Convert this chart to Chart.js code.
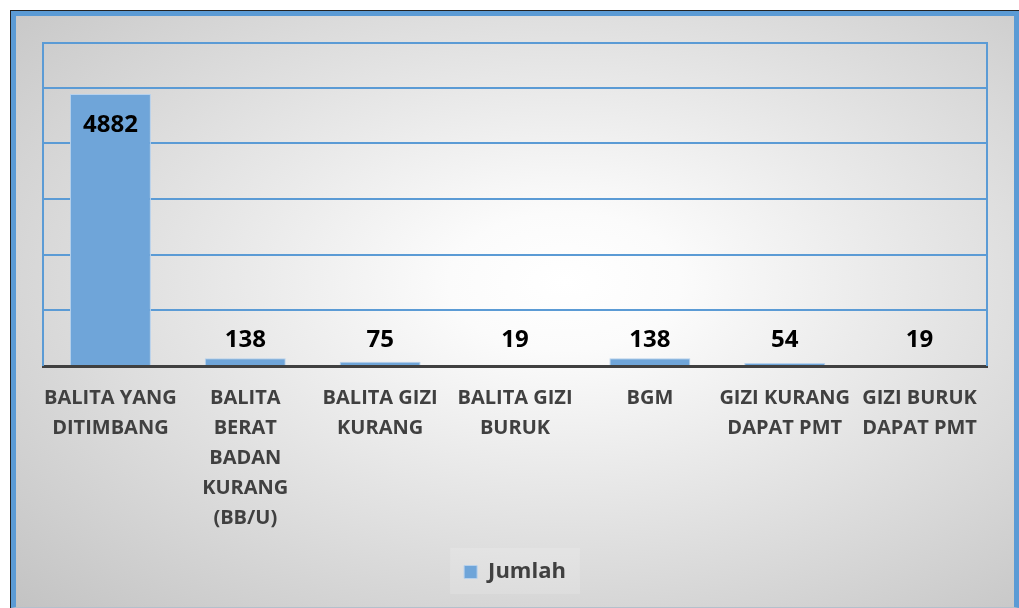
<!DOCTYPE html>
<html>
<head>
<meta charset="utf-8">
<script src="https://cdn.jsdelivr.net/npm/chart.js@4.4.1/dist/chart.umd.min.js"></script>
<style>
  html, body { margin: 0; padding: 0; background: #fff; width: 1019px; height: 608px; overflow: hidden; }
  .frame { position: absolute; left: 10px; top: 10px; width: 1009px; height: 598px;
           border-left: 1px solid #222; border-top: 1px solid #222; box-sizing: border-box; }
  .inner { position: absolute; left: 0; top: 0; right: 0; bottom: 0;
           border: 5px solid #5b9bd5; border-bottom: 1px solid #b4c0cc;
           background: radial-gradient(ellipse farthest-corner at 55% 45%, #ffffff 0%, #fbfbfb 15%, #c3c3c3 100%); }
  canvas { position: absolute; left: 0; top: 0; }
</style>
</head>
<body>
<div class="frame"><div class="inner"><canvas id="c" width="998" height="591"></canvas></div></div>
<script>
// categories and values
const categories = [
    ['BALITA YANG', 'DITIMBANG'],
    ['BALITA', 'BERAT', 'BADAN', 'KURANG', '(BB/U)'],
    ['BALITA GIZI', 'KURANG'],
    ['BALITA GIZI', 'BURUK'],
    ['BGM'],
    ['GIZI KURANG', 'DAPAT PMT'],
    ['GIZI BURUK', 'DAPAT PMT']
];
const jumlah = [4882, 138, 75, 19, 138, 54, 19];
const seriesName = 'Jumlah';
const yMax = 5800;
const yTicks = [0, 1000, 2000, 3000, 4000, 5000, 5800];

const blue = '#5b9bd5';

// outline of the plot area (Excel style)
const plotFrame = {
    id: 'plotFrame',
    beforeDatasetsDraw(chart) {
        const a = chart.chartArea, ctx = chart.ctx;
        ctx.save();
        ctx.strokeStyle = blue;
        ctx.lineWidth = 2;
        ctx.beginPath();
        ctx.moveTo(a.left, a.bottom);
        ctx.lineTo(a.left, a.top);
        ctx.lineTo(a.right, a.top);
        ctx.lineTo(a.right, a.bottom);
        ctx.stroke();
        ctx.restore();
    }
};

// value labels above the bars
const valueLabels = {
    id: 'valueLabels',
    afterDatasetsDraw(chart) {
        const ctx = chart.ctx;
        const meta = chart.getDatasetMeta(0);
        ctx.save();
        ctx.font = 'bold 24px "Open Sans"';
        ctx.fillStyle = '#000';
        ctx.textAlign = 'center';
        ctx.textBaseline = 'middle';
        meta.data.forEach((bar, i) => {
            const v = jumlah[i];
            let y;
            if (v > yMax * 0.6) y = bar.y + 31;
            else y = Math.min(bar.y - 16, bar.base - 25);
            ctx.fillText(String(v), bar.x, y);
        });
        ctx.restore();
    }
};

// faint panel behind the legend
const legendPanel = {
    id: 'legendPanel',
    beforeDraw(chart) {
        const lg = chart.legend;
        if (!lg || !lg.legendHitBoxes.length) return;
        const hb = lg.legendHitBoxes[0];
        const ctx = chart.ctx;
        ctx.save();
        ctx.fillStyle = 'rgba(255,255,255,0.15)';
        ctx.fillRect(hb.left - 14, hb.top - 13, hb.width + 28, hb.height + 24);
        ctx.restore();
    }
};

new Chart(document.getElementById('c'), {
    type: 'bar',
    data: {
        labels: categories,
        datasets: [{
            label: seriesName,
            data: jumlah,
            backgroundColor: '#6fa5d9',
            borderColor: '#b7d1ec',
            borderWidth: 1,
            barPercentage: 0.6,
            categoryPercentage: 1
        }]
    },
    options: {
        responsive: false,
        animation: false,
        layout: { padding: { left: 27, right: 27, top: 27, bottom: 14 } },
        plugins: {
            legend: {
                position: 'bottom',
                labels: {
                    boxWidth: 13, boxHeight: 13,
                    color: '#404040',
                    font: { family: 'Open Sans', weight: 'bold', size: 22 },
                    padding: 10
                }
            },
            tooltip: { enabled: false }
        },
        scales: {
            x: {
                grid: { display: false, drawTicks: false },
                border: { display: true, color: '#404040', width: 3 },
                ticks: {
                    autoSkip: false, maxRotation: 0, minRotation: 0,
                    color: '#404040', padding: 17,
                    font: { family: 'Open Sans', weight: 'bold', size: 20, lineHeight: 1.5 }
                },
                afterFit(scale) { scale.height = 185; }
            },
            y: {
                min: 0, max: yMax,
                ticks: { display: false },
                afterBuildTicks(scale) { scale.ticks = yTicks.map(v => ({ value: v })); },
                grid: { color: blue, lineWidth: 2, drawTicks: false },
                border: { display: false }
            }
        }
    },
    plugins: [legendPanel, plotFrame, valueLabels]
});
</script>
</body>
</html>
